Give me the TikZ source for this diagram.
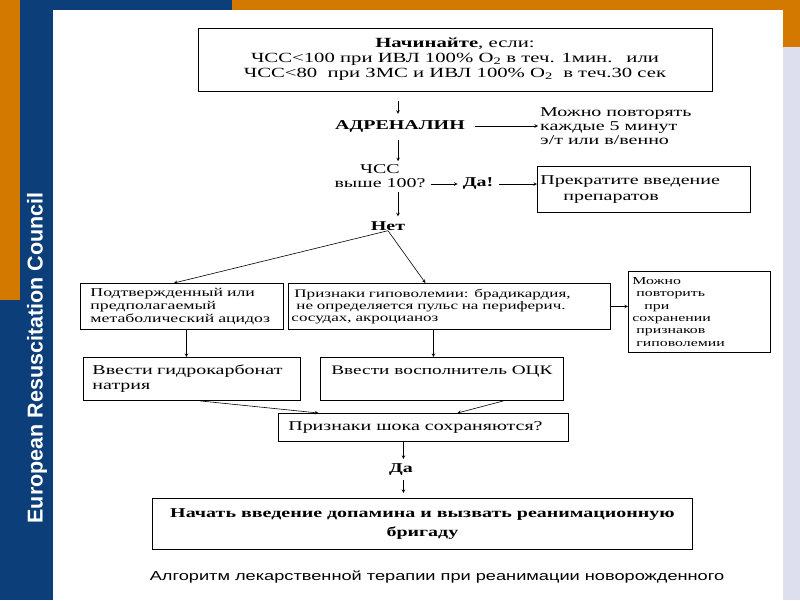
\documentclass[tikz,border=0pt]{standalone}
\usepackage{fontspec}
\setmainfont{Liberation Serif}
\newfontfamily\scanfont[FakeStretch=1.48]{Liberation Serif}
\newfontfamily\capfont[FakeStretch=1.4]{Liberation Sans}
\newfontfamily\sidefont{Liberation Sans}
\usetikzlibrary{arrows}
\definecolor{ercorange}{RGB}{212,121,0}
\definecolor{ercblue}{RGB}{12,62,122}
\definecolor{erclav}{RGB}{221,222,238}
\newcommand{\scansize}[2]{\scanfont\fontsize{#1}{#2}\selectfont}
\tikzstyle{arrow} = [semithick,->,>=stealth]
\tikzstyle{box} = [draw,line width=0.9pt,inner sep=0pt]
\tikzstyle{txt} = [inner sep=0pt,font=\scansize{13.5}{14}]
\tikzstyle{btxt} = [inner sep=0pt,font=\scansize{13.5}{14}\bfseries]
\tikzstyle{sidetext} = [rotate=90,text=white,font=\sidefont\bfseries\fontsize{21.5}{24}\selectfont]

\begin{document}
\begin{tikzpicture}[x=1pt,y=-1pt]
	\useasboundingbox (0,0) rectangle (800,600);

	% Draw the slide frame
	\fill[white] (0,0) rectangle (800,600);
	\fill[ercorange] (0,0) rectangle (20,300);
	\fill[ercblue] (0,300) rectangle (20,600);
	\fill[ercblue] (20,0) rectangle (53,600);
	\fill[ercblue] (53,0) rectangle (232,10);
	\fill[ercorange] (232,0) rectangle (800,10);
	\fill[ercorange] (783,10) rectangle (800,47);
	\fill[erclav] (783,47) rectangle (800,600);
	\node[sidetext] (erc) at (37,358) {European Resuscitation Council};

	% Start and adrenaline
	\node[box,minimum width=514,minimum height=63,align=center,font=\scansize{14}{15}] (start) at (455,59.5)
		{\textbf{Начинайте}, если:\\
		ЧСС<100 при ИВЛ 100\% O\textsubscript{2} в теч. 1мин.\quad или\\
		ЧСС<80\ \ при ЗМС и ИВЛ 100\% O\textsubscript{2}\ \ в теч.30 сек};
	\node[btxt] (adr) at (400,126) {АДРЕНАЛИН};
	\node[txt,anchor=west,align=left] (rep) at (540,126) {Можно повторять\\каждые 5 минут\\э/т или в/венно};
	\draw[arrow,shorten <=10pt,shorten >=6pt] (start.south -| 398,0) -- (adr.north -| 398,0);
	\draw[arrow,shorten <=10pt,shorten >=2pt] (adr.east) -- (rep.west);

	% Heart rate check
	\node[txt,align=center] (hr) at (380,176) {ЧСС\\выше 100?};
	\node[btxt] (yes) at (478,184) {Да!};
	\node[box,anchor=north west,minimum width=213,minimum height=46,text width=207,align=left,font=\scansize{13.5}{16}] (stop) at (537,166)
		{Прекратите введение\\\hspace*{1.7em}препаратов};
	\node[btxt] (no) at (388,226) {Нет};
	\draw[arrow,shorten <=8pt,shorten >=3pt] (adr.south -| 398,0) -- (hr.north -| 398,0);
	\draw[arrow,shorten <=5pt,shorten >=5pt] (yes.west -| hr.east) -- (yes.west);
	\draw[arrow,shorten <=6pt] (yes.east) -- (yes.east -| stop.west);
	\draw[arrow,shorten <=4pt,shorten >=5pt] (hr.south -| 398,0) -- (no.north -| 398,0);

	% Acidosis and hypovolaemia
	\node[box,anchor=north west,minimum width=203,minimum height=46,text width=183,align=left,font=\scansize{12}{13}] (acid) at (80,283)
		{Подтвержденный или\\предполагаемый\\метаболический ацидоз};
	\node[box,anchor=north west,minimum width=322,minimum height=46,text width=316,align=left,font=\scansize{11.5}{12.3}] (hypo) at (288,283)
		{\hspace*{3pt}Признаки гиповолемии: брадикардия,\\\hspace*{5pt}не определяется пульс на периферич.\\сосудах, акроцианоз};
	\node[box,anchor=north west,minimum width=142,minimum height=81,text width=134,align=left,font=\scansize{10.7}{12.3}] (again) at (628,271)
		{Можно\\\hspace*{4pt}повторить\\\hspace*{12pt}при\\сохранении\\\hspace*{4pt}признаков\\\hspace*{4pt}гиповолемии};
	\draw[arrow] (no.south) -- ([xshift=-8]acid.north);
	\draw[arrow] (no.south) -- ([xshift=-24]hypo.north);
	\draw[arrow] (hypo.east) -- (hypo.east -| again.west);

	% Treatment boxes
	\node[box,anchor=north west,minimum width=217,minimum height=43,text width=199,align=left,font=\scansize{13.5}{15}] (soda) at (83,357)
		{Ввести гидрокарбонат\\натрия};
	\node[box,anchor=north west,minimum width=243,minimum height=43,text height=17,text depth=26,font=\scansize{13}{15}] (ock) at (320,357)
		{Ввести восполнитель ОЦК};
	\draw[arrow] ([xshift=4.5]acid.south) -- ([xshift=4.5]acid.south |- soda.north);
	\draw[arrow] ([xshift=-16]hypo.south) -- ([xshift=-16]hypo.south |- ock.north);

	% Shock check and dopamine
	\node[box,anchor=north west,minimum width=290,minimum height=28,font=\scansize{13.5}{15}] (shock) at (278,413)
		{Признаки шока сохраняются?\hspace*{16pt}};
	\node[btxt] (yes2) at (401,470) {Да};
	\node[box,anchor=north west,minimum width=540,minimum height=51,align=center,font=\scansize{13.5}{19}\bfseries] (dop) at (152,498)
		{Начать введение допамина и вызвать реанимационную\\бригаду};
	\draw[arrow] ([xshift=8]soda.south) -- ([xshift=-105]shock.north);
	\draw[arrow] ([xshift=61.5]ock.south) -- ([xshift=34]shock.north);
	\draw[arrow,shorten >=5pt] ([xshift=-20]shock.south) -- ([xshift=-20]shock.south |- yes2.north);
	\draw[arrow,shorten <=4pt,shorten >=5pt] ([xshift=-20]shock.south |- yes2.south) -- ([xshift=-20]shock.south |- dop.north);

	% Caption
	\node[inner sep=0pt,font=\capfont\fontsize{13}{15}\selectfont] (cap) at (437,577)
		{Алгоритм лекарственной терапии при реанимации новорожденного};
\end{tikzpicture}
\end{document}
